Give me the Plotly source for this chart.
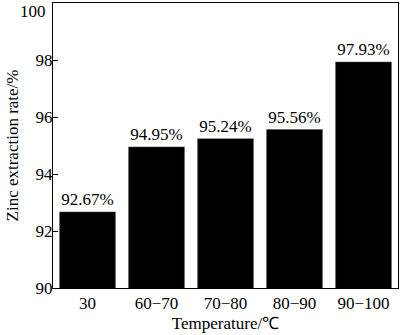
import plotly.graph_objects as go

temperatures = ["30", "60\u221270", "70\u221280", "80\u221290", "90\u2212100"]
zinc_rate = [92.67, 94.95, 95.24, 95.56, 97.93]
y_ticks = [90, 92, 94, 96, 98, 100]

serif = "'Liberation Serif', 'Times New Roman', Times, serif"

fig = go.Figure(
    go.Bar(
        x=temperatures,
        y=zinc_rate,
        marker=dict(color="black", line=dict(color="#555", width=0.5)),
        text=[f"{v:.2f}%" for v in zinc_rate],
        textposition="outside",
        constraintext="none",
        cliponaxis=False,
        textfont=dict(family=serif, size=17, color="black"),
    )
)

# the top tick label sits just below its tick so it stays inside the page
top_tick = y_ticks[-1]
tick_text = [str(v) if v != top_tick else "" for v in y_ticks]
fig.add_annotation(
    text=str(top_tick),
    xref="paper",
    yref="y",
    x=0,
    y=top_tick,
    xanchor="right",
    yanchor="top",
    xshift=-5,
    yshift=3,
    showarrow=False,
    font=dict(family=serif, size=17, color="black"),
)

fig.update_layout(
    width=400,
    height=335,
    margin=dict(l=53, r=2, t=3, b=47, autoexpand=False),
    plot_bgcolor="white",
    paper_bgcolor="white",
    bargap=0.19,
    showlegend=False,
    font=dict(family=serif, color="black", size=17),
)

fig.update_xaxes(
    showline=True,
    linecolor="black",
    linewidth=1,
    mirror=True,
    ticks="",
    tickfont=dict(family=serif, size=17, color="black"),
    title=dict(text="Temperature/\u2103", font=dict(family=serif, size=17), standoff=4),
    range=[-0.5, 4.5],
    automargin=False,
)

fig.update_yaxes(
    range=[90, 100],
    tickvals=y_ticks,
    ticktext=tick_text,
    ticklabelstandoff=-4,
    showline=True,
    linecolor="black",
    linewidth=1,
    mirror=True,
    ticks="inside",
    ticklen=5,
    tickcolor="black",
    showgrid=False,
    zeroline=False,
    tickfont=dict(family=serif, size=17, color="black"),
    title=dict(text="Zinc extraction rate/%", font=dict(family=serif, size=17), standoff=12),
    automargin=False,
)

fig.write_html("out.html")
